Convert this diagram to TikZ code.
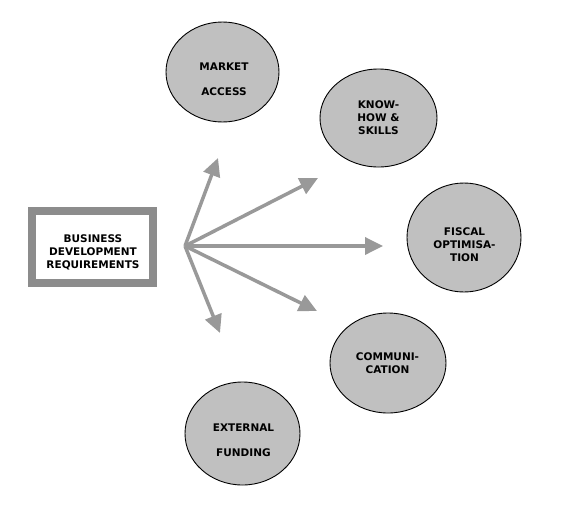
\documentclass[tikz,border=0pt]{standalone}
\usepackage{fontspec}
\setmainfont{DejaVu Sans}
\usetikzlibrary{shapes.geometric,arrows.meta}
\definecolor{framegray}{RGB}{140,140,140}
\definecolor{arrowgray}{RGB}{153,153,153}
\definecolor{ellfill}{RGB}{192,192,192}
\tikzset{
  bubble/.style={ellipse,draw=black,line width=0.9pt,fill=ellfill,inner sep=0pt},
  lbl/.style={font=\fontsize{10.5}{13}\selectfont\bfseries,align=center,inner sep=0pt},
  spoke/.style={draw=arrowgray,line width=3.5pt,-{Triangle[length=18pt,width=17pt]}},
  framebox/.style={draw=framegray,line width=8pt,fill=white,minimum width=121pt,minimum height=72pt,inner sep=0pt}
}
\begin{document}
\begin{tikzpicture}[x=1pt,y=-1pt]
\useasboundingbox[fill=white] (0,0) rectangle (562,520);
% central box
\node[framebox] (bdr) at (92.5,247) {};
\node[lbl] (bdrT) at (93,252) {BUSINESS\\DEVELOPMENT\\REQUIREMENTS};
% ellipses
\node[bubble,minimum width=113pt,minimum height=100pt] (market) at (222.5,72) {};
\node[lbl] (marketT) at (224,79.5) {MARKET\\[12pt]ACCESS};
\node[bubble,minimum width=117pt,minimum height=98pt] (know) at (378.5,118) {};
\node[lbl] (knowT) at (378.5,118) {KNOW-\\HOW \&\\SKILLS};
\node[bubble,minimum width=114pt,minimum height=109pt] (fiscal) at (464,237.5) {};
\node[lbl] (fiscalT) at (464.5,244.5) {FISCAL\\OPTIMISA-\\TION};
\node[bubble,minimum width=116pt,minimum height=100pt] (comm) at (388,363) {};
\node[lbl] (commT) at (387.5,363.5) {COMMUNI-\\CATION};
\node[bubble,minimum width=115pt,minimum height=103pt] (ext) at (242.5,433.5) {};
\node[lbl] (extT) at (243.5,440.5) {EXTERNAL\\[12pt]FUNDING};
% arrows
\coordinate (o) at (185,246);
\coordinate (t1) at (218,158);
\coordinate (t2) at (318,178);
\coordinate (t3) at (383,246);
\coordinate (t4) at (317,311);
\coordinate (t5) at (220,333);
\foreach \t in {t1,t2,t3,t4,t5} \draw[spoke] (o) -- (\t);
\end{tikzpicture}
\end{document}
